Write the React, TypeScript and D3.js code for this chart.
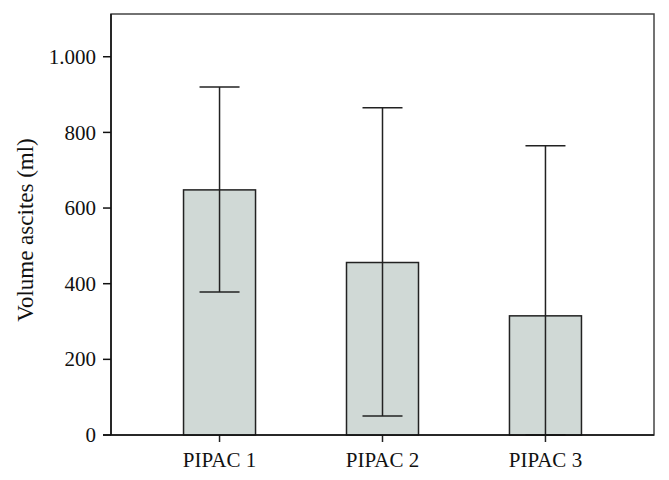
import React from "react";
import * as d3 from "d3";

const categories = ["PIPAC 1", "PIPAC 2", "PIPAC 3"];
const means = [648, 456, 315];
const errLow = [378, 50, 0];
const errHigh = [920, 865, 765];
const yTicks = [0, 200, 400, 600, 800, 1000];
const yTickLabels = ["0", "200", "400", "600", "800", "1.000"];
const yMax = 1113;

export default function App() {
  const W = 669, H = 480;
  const left = 111, right = 654, top = 14, bottom = 435;
  const x = d3.scalePoint<string>().domain(categories).range([left, right]).padding(0.666);
  const y = d3.scaleLinear().domain([0, yMax]).range([bottom, top]);
  const barW = 72;
  const capW = 40;
  const font = "'Liberation Serif', 'Times New Roman', serif";
  return (
    <svg width={W} height={H} style={{ position: "absolute", left: 0, top: 0, background: "#fff" }}>
      <rect x={left} y={top} width={right - left} height={bottom - top} fill="none" stroke="#444" strokeWidth={1.5} />
      {categories.map((c, i) => {
        const cx = x(c)!;
        return (
          <g key={c}>
            <rect x={cx - barW / 2} y={y(means[i])} width={barW} height={bottom - y(means[i])} fill="#d0d9d6" stroke="#222" strokeWidth={1.5} />
            <line x1={cx} x2={cx} y1={y(errLow[i])} y2={y(errHigh[i])} stroke="#222" strokeWidth={1.5} />
            <line x1={cx - capW / 2} x2={cx + capW / 2} y1={y(errHigh[i])} y2={y(errHigh[i])} stroke="#222" strokeWidth={1.5} />
            <line x1={cx - capW / 2} x2={cx + capW / 2} y1={y(errLow[i])} y2={y(errLow[i])} stroke="#222" strokeWidth={1.5} />
            <line x1={cx} x2={cx} y1={bottom} y2={bottom + 7} stroke="#222" strokeWidth={1.5} />
            <text x={cx} y={bottom + 32} textAnchor="middle" fontFamily={font} fontSize={21} fill="#111">{c}</text>
          </g>
        );
      })}
      <line x1={left} x2={left} y1={top} y2={bottom} stroke="#111" strokeWidth={1.5} />
      <line x1={left - 8} x2={right} y1={bottom} y2={bottom} stroke="#111" strokeWidth={1.5} />
      {yTicks.map((t, i) => (
        <g key={t}>
          <line x1={left - 8} x2={left} y1={y(t)} y2={y(t)} stroke="#111" strokeWidth={1.5} />
          <text x={left - 15} y={y(t)} dy="0.34em" textAnchor="end" fontFamily={font} fontSize={21} fill="#111">{yTickLabels[i]}</text>
        </g>
      ))}
      <text transform={`translate(33,230) rotate(-90)`} textAnchor="middle" fontFamily={font} fontSize={23} fill="#111">Volume ascites (ml)</text>
    </svg>
  );
}
